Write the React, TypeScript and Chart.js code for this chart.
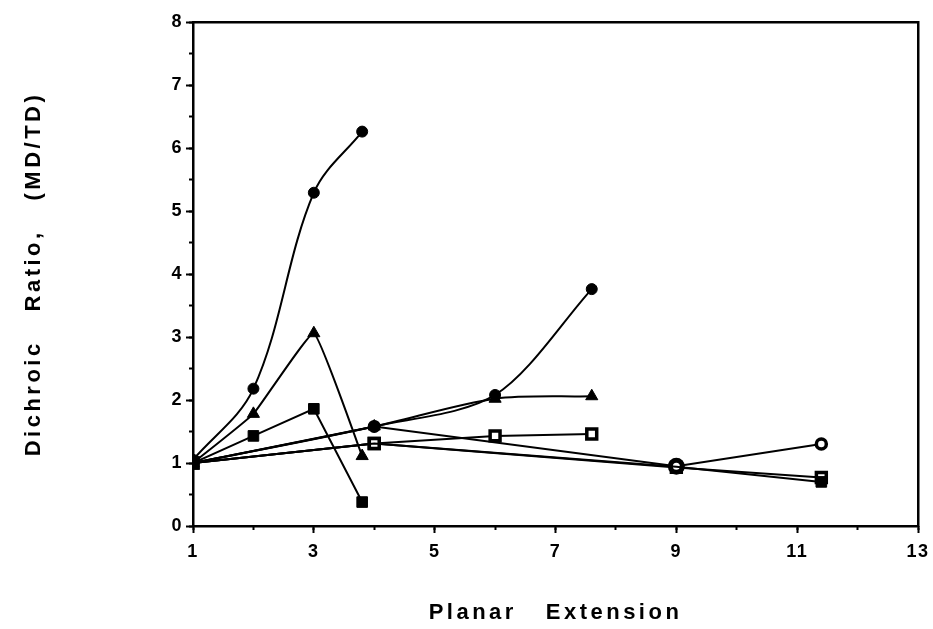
import React, { useEffect, useRef } from "react";
import { Chart, registerables } from "chart.js";

Chart.register(...registerables);

// ---- data ----
const xShortRun = [1, 2, 3, 3.8];
const xMidRun = [1, 4, 6, 7.6];
const xLongRun = [1, 4, 9, 11.4];

const filledCircleShort = [1.05, 2.18, 5.29, 6.26];
const filledTriangleShort = [1.0, 1.78, 3.06, 1.11];
const filledSquareShort = [1.0, 1.43, 1.86, 0.38];

const filledCircleMid = [1.0, 1.58, 2.08, 3.76];
const filledTriangleMid = [1.0, 1.58, 2.02, 2.06];
const openSquareMid = [1.0, 1.31, 1.43, 1.46];

const openCircleLong = [1.0, 1.58, 0.95, 1.3];
const openSquareLong = [1.0, 1.31, 0.93, 0.77];
const filledSquareLong = [1.0, 1.31, 0.94, 0.7];

const xMajorTicks = [1, 3, 5, 7, 9, 11, 13];
const xMinorTicks = [1, 2, 3, 4, 5, 6, 7, 8, 9, 10, 11, 12, 13];
const yMajorTicks = [0, 1, 2, 3, 4, 5, 6, 7, 8];
const yMinorTicks = [0, 0.5, 1, 1.5, 2, 2.5, 3, 3.5, 4, 4.5, 5, 5.5, 6, 6.5, 7, 7.5, 8];

const xTitle = "Planar   Extension";
const yTitle = "Dichroic   Ratio,   (MD/TD)";

const FAMILY = "'Liberation Sans', Arial, Helvetica, sans-serif";
const tickFont = { family: FAMILY, size: 18, weight: "bold" as const };
const titleFont = { family: FAMILY, size: 22, weight: "bold" as const };

const toPoints = (xs: number[], ys: number[]) => xs.map((x, i) => ({ x, y: ys[i] }));

const spacingPlugin = {
  id: "letterSpacing",
  beforeDraw(chart: any) {
    chart.ctx.letterSpacing = "1.5px";
    Object.values(chart.scales).forEach((s: any) => {
      if (!s.__spaced) {
        const orig = s.drawTitle.bind(s);
        s.drawTitle = () => {
          const c = s.ctx;
          const prev = c.letterSpacing;
          c.letterSpacing = "3.5px";
          orig();
          c.letterSpacing = prev;
        };
        s.__spaced = true;
      }
    });
  },
};

function line(label: string, xs: number[], ys: number[], style: any) {
  return {
    label,
    data: toPoints(xs, ys),
    borderColor: "#000",
    borderWidth: 2,
    fill: false,
    pointBorderColor: "#000",
    pointBackgroundColor: "#000",
    pointBorderWidth: 1,
    pointHoverRadius: 0,
    ...style,
  };
}

export default function App() {
  const ref = useRef<HTMLCanvasElement>(null);

  useEffect(() => {
    document.body.style.margin = "0";
    const canvas = ref.current!;
    const chart = new Chart(canvas, {
      type: "line",
      data: {
        datasets: [
          line("filled circle, short", xShortRun, filledCircleShort, {
            pointStyle: "circle",
            pointRadius: 5.5,
            tension: 0.35,
          }),
          line("filled triangle, short", xShortRun, filledTriangleShort, {
            pointStyle: "triangle",
            pointRadius: 7,
            tension: 0.1,
          }),
          line("filled square, short", xShortRun, filledSquareShort, {
            pointStyle: "rect",
            pointRadius: 7.5,
            tension: 0,
          }),
          line("filled circle, mid", xMidRun, filledCircleMid, {
            pointStyle: "circle",
            pointRadius: 5.5,
            tension: 0.3,
          }),
          line("filled triangle, mid", xMidRun, filledTriangleMid, {
            pointStyle: "triangle",
            pointRadius: 7,
            tension: 0.3,
          }),
          line("filled square, long", xLongRun, filledSquareLong, {
            pointStyle: "rect",
            pointRadius: [7.5, 0, 0, 7.5],
            tension: 0,
          }),
          line("open circle, long", xLongRun, openCircleLong, {
            pointStyle: "circle",
            pointRadius: [5, 5, 6, 5],
            pointBackgroundColor: "#fff",
            pointBorderWidth: [3, 3, 5, 3.5],
            tension: 0,
          }),
          line("open square, mid", xMidRun, openSquareMid, {
            pointStyle: "rect",
            pointRadius: 7,
            pointBackgroundColor: "#fff",
            pointBorderWidth: 3.5,
            tension: 0,
          }),
          line("open square, long", xLongRun, openSquareLong, {
            pointStyle: "rect",
            pointRadius: 7,
            pointBackgroundColor: "#fff",
            pointBorderWidth: 3.5,
            tension: 0,
          }),
        ],
      },
      options: {
        responsive: false,
        animation: false,
        devicePixelRatio: 1,
        layout: { padding: { top: 22, right: 15, left: 0, bottom: 0 } },
        plugins: { legend: { display: false }, tooltip: { enabled: false } },
        events: [],
        scales: {
          x: {
            type: "linear",
            position: "bottom",
            min: 1,
            max: 13,
            weight: 1,
            afterBuildTicks: (s: any) => {
              s.ticks = xMajorTicks.map((v) => ({ value: v }));
            },
            ticks: { color: "#000", font: tickFont, padding: 8, maxRotation: 0, autoSkip: false },
            grid: { drawOnChartArea: false, drawTicks: true, tickLength: 7, tickColor: "#000", tickWidth: 2 },
            border: { display: true, color: "#000", width: 2.5 },
            title: { display: true, text: xTitle, color: "#000", font: titleFont, padding: { top: 0, bottom: 3 } },
            afterFit: (s: any) => {
              s.height = 103;
              s.paddingLeft = 0;
              s.paddingRight = 0;
            },
          },
          xMinor: {
            type: "linear",
            position: "bottom",
            min: 1,
            max: 13,
            weight: 0,
            afterBuildTicks: (s: any) => {
              s.ticks = xMinorTicks.map((v) => ({ value: v }));
            },
            ticks: { display: false },
            grid: { drawOnChartArea: false, drawTicks: true, tickLength: 4, tickColor: "#000", tickWidth: 2 },
            border: { display: false },
            afterFit: (s: any) => {
              s.height = 0;
              s.paddingLeft = 0;
              s.paddingRight = 0;
            },
          },
          xTop: {
            type: "linear",
            position: "top",
            min: 1,
            max: 13,
            ticks: { display: false },
            grid: { drawOnChartArea: false, drawTicks: false },
            border: { display: true, color: "#000", width: 2.5 },
            afterFit: (s: any) => {
              s.height = 0;
              s.paddingLeft = 0;
              s.paddingRight = 0;
            },
          },
          y: {
            type: "linear",
            position: "left",
            min: 0,
            max: 8,
            weight: 1,
            afterBuildTicks: (s: any) => {
              s.ticks = yMajorTicks.map((v) => ({ value: v }));
            },
            ticks: { color: "#000", font: tickFont, padding: 3, autoSkip: false },
            grid: { drawOnChartArea: false, drawTicks: true, tickLength: 7, tickColor: "#000", tickWidth: 2 },
            border: { display: true, color: "#000", width: 2.5 },
            title: { display: true, text: yTitle, color: "#000", font: titleFont, padding: { top: 21, bottom: 0 } },
            afterFit: (s: any) => {
              s.width = 193;
              s.paddingTop = 0;
              s.paddingBottom = 0;
            },
          },
          yMinor: {
            type: "linear",
            position: "left",
            min: 0,
            max: 8,
            weight: 0,
            afterBuildTicks: (s: any) => {
              s.ticks = yMinorTicks.map((v) => ({ value: v }));
            },
            ticks: { display: false },
            grid: { drawOnChartArea: false, drawTicks: true, tickLength: 4, tickColor: "#000", tickWidth: 2 },
            border: { display: false },
            afterFit: (s: any) => {
              s.width = 0;
              s.paddingTop = 0;
              s.paddingBottom = 0;
            },
          },
          yRight: {
            type: "linear",
            position: "right",
            min: 0,
            max: 8,
            ticks: { display: false },
            grid: { drawOnChartArea: false, drawTicks: false },
            border: { display: true, color: "#000", width: 2.5 },
            afterFit: (s: any) => {
              s.width = 0;
              s.paddingTop = 0;
              s.paddingBottom = 0;
            },
          },
        },
      } as any,
      plugins: [spacingPlugin],
    });
    return () => chart.destroy();
  }, []);

  return (
    <div style={{ width: 933, height: 629, background: "#fff" }}>
      <canvas ref={ref} width={933} height={629} style={{ display: "block" }} />
    </div>
  );
}
